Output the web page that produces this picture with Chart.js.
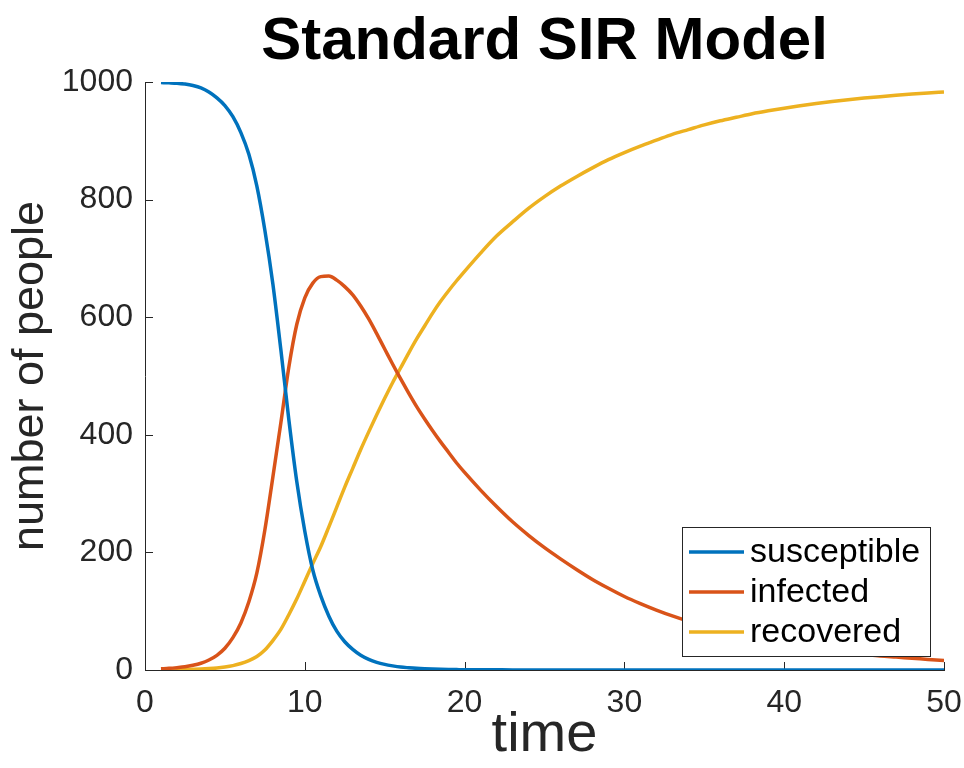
<!DOCTYPE html>
<html><head><meta charset="utf-8">
<script src="https://cdn.jsdelivr.net/npm/chart.js@4.4.1/dist/chart.umd.min.js"></script>
<style>html,body{margin:0;padding:0;background:#fff;}#wrap{width:964px;height:768px;}</style>
</head><body><div id="wrap"><canvas id="c" width="964" height="768"></canvas></div>
<script>
const times = [1,1.5,2,2.5,3,3.5,4,4.5,5,5.5,6,6.5,7,7.5,8,8.5,9,9.5,10,10.5,11,11.5,12,12.5,13,13.5,14,14.5,15,15.5,16,16.5,17,17.5,18,18.5,19,19.5,20,21,22,23,24,25,26,27,28,29,30,31,32,33,34,35,36,37,38,39,40,41,42,43,44,45,46,47,48,49,50];
const susceptible = [999,998.6,998,996.5,994,990,983,973,960,941,914,877,823,748,657,545,426,320,236,170,126,92,66,48,35,25,18,13,9.5,7,5,3.8,2.8,2.1,1.6,1.2,0.9,0.7,0.5,0.4,0.3,0.2,0.2,0.1,0.1,0.1,0.1,0,0,0,0,0,0,0,0,0,0,0,0,0,0,0,0,0,0,0,0,0,0];
const infected = [2,2.8,4,5.5,8,11.5,17,25,37,55,80,116,165,238,328,420,515,588,633,658,669,670,663,652,638,619,597,572,546,520,495,471,448,427,407,388,370,352,336,306,278,252,229,208,189,171,154,139,125,113,102,92,83,75,68,61,55,50,45,41,37,33,30,27,24,22,20,18,16];
const recovered = [0,0.2,0.4,0.7,1.1,1.6,2.4,3.5,5.2,7.5,11,16,23,34,50,69,94,121,151,181,210,243,277,311,343,375,405,434,462,489,514,539,563,585,607,627,645,662,678,709,738,762,785,805,823,839,854,868,880,891,901,911,919,927,934,940,946,951,955.5,959.5,963.3,966.7,969.8,972.6,975.1,977.4,979.5,981.4,983.2];
const xTicks = [0,10,20,30,40,50];
const yTicks = [0,200,400,600,800,1000];
const seriesNames = ['susceptible','infected','recovered'];
const seriesColors = ['#0072BD','#D95319','#EDB120'];
const seriesValues = [susceptible, infected, recovered];

const FONT = '"Liberation Sans", Arial, Helvetica, sans-serif';
const AXC = '#262626';

const innerTicks = {
  id: 'innerTicks',
  beforeDatasetsDraw(chart) {
    const {ctx, chartArea: a, scales: {x, y}} = chart;
    ctx.save();
    ctx.strokeStyle = AXC; ctx.lineWidth = 1;
    x.ticks.forEach(t => {
      const px = Math.round(x.getPixelForValue(t.value)) + 0.5;
      ctx.beginPath(); ctx.moveTo(px, a.bottom); ctx.lineTo(px, a.bottom - 8); ctx.stroke();
    });
    y.ticks.forEach(t => {
      const py = Math.round(y.getPixelForValue(t.value)) + 0.5;
      ctx.beginPath(); ctx.moveTo(a.left, py); ctx.lineTo(a.left + 8, py); ctx.stroke();
    });
    ctx.restore();
  }
};

const boxLegend = {
  id: 'boxLegend',
  afterDatasetsDraw(chart) {
    const {ctx, chartArea: a} = chart;
    const w = 248, h = 129;
    const right = a.right - 14, bottom = a.bottom - 14;
    const left = right - w, top = bottom - h;
    ctx.save();
    ctx.fillStyle = '#fff';
    ctx.fillRect(left, top, w, h);
    ctx.strokeStyle = AXC; ctx.lineWidth = 1;
    ctx.strokeRect(Math.round(left) + 0.5, Math.round(top) + 0.5, w, h);
    ctx.font = '34px ' + FONT;
    ctx.textBaseline = 'middle';
    ctx.fillStyle = '#000';
    chart.data.datasets.forEach((ds, i) => {
      const cy = top + 25 + i * 40;
      ctx.strokeStyle = ds.borderColor; ctx.lineWidth = 3.5;
      ctx.beginPath(); ctx.moveTo(left + 7, cy); ctx.lineTo(left + 62, cy); ctx.stroke();
      ctx.fillText(ds.label, left + 68, cy + 1);
    });
    ctx.restore();
  }
};

new Chart(document.getElementById('c'), {
  type: 'line',
  data: {
    datasets: seriesNames.map((name, i) => ({
      label: name,
      data: times.map((t, j) => ({x: t, y: seriesValues[i][j]})),
      borderColor: seriesColors[i],
      backgroundColor: seriesColors[i],
      borderWidth: 3.5,
      pointRadius: 0,
      cubicInterpolationMode: 'monotone',
      fill: false
    }))
  },
  options: {
    responsive: false,
    animation: false,
    devicePixelRatio: 1,
    layout: {padding: {left: 0, right: 20, top: 0, bottom: 0}},
    plugins: {
      legend: {display: false},
      tooltip: {enabled: false},
      title: {
        display: true, text: 'Standard SIR Model', fullSize: false,
        color: '#000', font: {family: FONT, size: 60, weight: 'bold', lineHeight: 1},
        padding: {top: 12, bottom: 10}
      }
    },
    scales: {
      x: {
        type: 'linear', min: 0, max: 50,
        afterBuildTicks: s => { s.ticks = xTicks.map(v => ({value: v})); },
        afterFit: s => { s.height = 98; s.paddingLeft = 0; s.paddingRight = 0; },
        grid: {display: false},
        border: {display: true, color: AXC, width: 1},
        ticks: {color: AXC, font: {family: FONT, size: 32}, padding: 6, maxRotation: 0, callback: v => String(v)},
        title: {display: true, text: 'time', color: AXC, font: {family: FONT, size: 56, lineHeight: 1}, padding: {top: 0, bottom: 4}}
      },
      y: {
        type: 'linear', min: 0, max: 1000,
        afterBuildTicks: s => { s.ticks = yTicks.map(v => ({value: v})); },
        afterFit: s => { s.width = 145; s.paddingTop = 0; s.paddingBottom = 0; },
        grid: {display: false},
        border: {display: true, color: AXC, width: 1},
        ticks: {color: AXC, font: {family: FONT, size: 32}, padding: 4, callback: v => String(v)},
        title: {display: true, text: 'number of people', color: AXC, font: {family: FONT, size: 45, lineHeight: 1}, padding: {top: 8, bottom: 0}}
      }
    }
  },
  plugins: [innerTicks, boxLegend]
});
</script></body></html>
